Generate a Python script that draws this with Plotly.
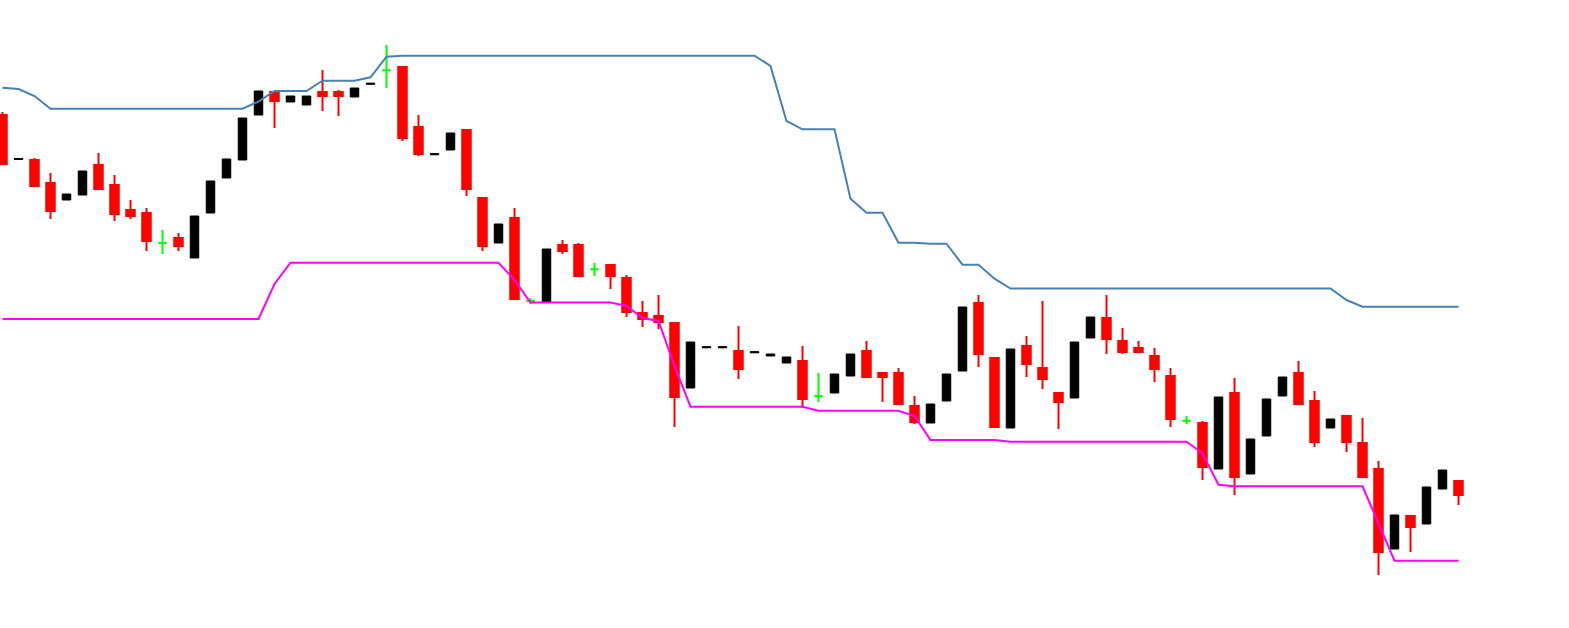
import plotly.graph_objects as go

# candle OHLC, one entry per bar (index = bar number)
opens = [1.2885, 1.28405, 1.2840, 1.2817, 1.2800, 1.2805, 1.2835, 1.2815, 1.2790, 1.2787,
         1.2757, 1.2762, 1.2742, 1.2787, 1.2822, 1.2840, 1.2885, 1.2908, 1.2898, 1.2895,
         1.2908, 1.2908, 1.2903, 1.29157, 1.29297, 1.2933, 1.2873, 1.28452, 1.2850, 1.2870,
         1.2802, 1.2757, 1.2782, 1.2699, 1.2698, 1.2755, 1.2755, 1.27307, 1.2735, 1.2722,
         1.2687, 1.2684, 1.2677, 1.2612, 1.26522, 1.26522, 1.2649, 1.26472, 1.2644, 1.2637,
         1.2639, 1.26037, 1.2607, 1.2624, 1.2649, 1.2627, 1.2627, 1.2594, 1.2577, 1.2599,
         1.2629, 1.2697, 1.2642, 1.2572, 1.2654, 1.2632, 1.2607, 1.2602, 1.2662, 1.2682,
         1.2659, 1.2652, 1.2644, 1.2624, 1.25793, 1.2577, 1.2531, 1.2607, 1.2526, 1.2564,
         1.2604, 1.2627, 1.2599, 1.2572, 1.2584, 1.2557, 1.2531, 1.2451, 1.2484, 1.2476,
         1.2511, 1.2519]
highs = [1.2888, 1.28415, 1.2842, 1.2827, 1.2806, 1.2829, 1.2847, 1.2825, 1.2800, 1.2792,
         1.2770, 1.2767, 1.2784, 1.2819, 1.2841, 1.2882, 1.2909, 1.2908, 1.2904, 1.2904,
         1.2930, 1.2910, 1.2912, 1.29167, 1.2955, 1.2933, 1.2885, 1.28462, 1.2867, 1.2870,
         1.2802, 1.2776, 1.2792, 1.2702, 1.2751, 1.2760, 1.2757, 1.2737, 1.2735, 1.2725,
         1.2699, 1.2705, 1.2677, 1.2658, 1.26532, 1.26532, 1.2674, 1.26482, 1.2646, 1.2643,
         1.2654, 1.2627, 1.2626, 1.2646, 1.2659, 1.2627, 1.2632, 1.2604, 1.2596, 1.2626,
         1.2693, 1.2705, 1.2642, 1.2651, 1.2664, 1.2699, 1.2607, 1.2658, 1.2683, 1.2705,
         1.2672, 1.2659, 1.2652, 1.2632, 1.2584, 1.2579, 1.2603, 1.2622, 1.2561, 1.2601,
         1.2623, 1.2639, 1.2609, 1.2581, 1.2584, 1.2582, 1.2539, 1.2485, 1.2484, 1.2513,
         1.2530, 1.2519]
lows = [1.2836, 1.28405, 1.2814, 1.2781, 1.2800, 1.2805, 1.2811, 1.2779, 1.2781, 1.2749,
        1.2746, 1.2749, 1.2742, 1.2787, 1.2822, 1.2840, 1.2885, 1.2872, 1.2898, 1.2895,
        1.2889, 1.2884, 1.2903, 1.29157, 1.2912, 1.2859, 1.2844, 1.28452, 1.2850, 1.2804,
        1.2749, 1.2757, 1.2700, 1.2696, 1.2698, 1.2746, 1.2724, 1.2724, 1.2711, 1.2683,
        1.2673, 1.2671, 1.2573, 1.2612, 1.26522, 1.26522, 1.2621, 1.26472, 1.2644, 1.2637,
        1.2593, 1.2598, 1.2607, 1.2624, 1.2623, 1.2598, 1.2596, 1.2576, 1.2577, 1.2599,
        1.2629, 1.2633, 1.2573, 1.2572, 1.2623, 1.2611, 1.2571, 1.2602, 1.2662, 1.2646,
        1.2646, 1.2648, 1.2618, 1.2573, 1.2576, 1.2520, 1.2531, 1.2505, 1.2526, 1.2564,
        1.2604, 1.2596, 1.2553, 1.2572, 1.2548, 1.2523, 1.2425, 1.2451, 1.2448, 1.2476,
        1.2511, 1.2495]
closes = [1.2836, 1.28415, 1.2814, 1.2789, 1.2806, 1.2829, 1.2811, 1.2786, 1.2784, 1.2759,
          1.2757, 1.2754, 1.2784, 1.2819, 1.2841, 1.2882, 1.2909, 1.2899, 1.2904, 1.2904,
          1.2904, 1.2904, 1.2912, 1.29167, 1.29297, 1.2862, 1.2846, 1.28462, 1.2867, 1.2811,
          1.2754, 1.2776, 1.2701, 1.2699, 1.2751, 1.2749, 1.2724, 1.27307, 1.2724, 1.2688,
          1.2681, 1.2678, 1.2603, 1.2658, 1.26532, 1.26532, 1.2631, 1.26482, 1.2646, 1.2643,
          1.2601, 1.26037, 1.2626, 1.2646, 1.2623, 1.2623, 1.2596, 1.2578, 1.2596, 1.2626,
          1.2693, 1.2646, 1.2573, 1.2651, 1.2636, 1.2621, 1.2598, 1.2658, 1.2683, 1.2661,
          1.2648, 1.2648, 1.2631, 1.2581, 1.25793, 1.2533, 1.2603, 1.2523, 1.2561, 1.2601,
          1.2623, 1.2596, 1.2558, 1.2581, 1.2558, 1.2523, 1.2448, 1.2485, 1.2473, 1.2513,
          1.2530, 1.2505]

# channel lines
upper_band = [1.29123, 1.2911, 1.2904, 1.28913, 1.28913, 1.28913, 1.28913, 1.28913, 1.28913, 1.28913,
              1.28913, 1.28913, 1.28913, 1.28913, 1.28913, 1.28913, 1.28985, 1.2909, 1.2909, 1.2909,
              1.29193, 1.29193, 1.29193, 1.29227, 1.29433, 1.29443, 1.29443, 1.29443, 1.29443, 1.29443,
              1.29443, 1.29443, 1.29443, 1.29443, 1.29443, 1.29443, 1.29443, 1.29443, 1.29443, 1.29443,
              1.29443, 1.29443, 1.29443, 1.29443, 1.29443, 1.29443, 1.29443, 1.29443, 1.2934, 1.2879,
              1.28707, 1.28707, 1.28707, 1.28013, 1.27873, 1.27873, 1.27573, 1.27573, 1.27563, 1.27563,
              1.27353, 1.27353, 1.27213, 1.27115, 1.27115, 1.27115, 1.27115, 1.27115, 1.27115, 1.27115,
              1.27115, 1.27115, 1.27115, 1.27115, 1.27115, 1.27115, 1.27115, 1.27115, 1.27115, 1.27115,
              1.27115, 1.27115, 1.27115, 1.27115, 1.2700, 1.26933, 1.26933, 1.26933, 1.26933, 1.26933,
              1.26933, 1.26933]
lower_band = [1.2681, 1.2681, 1.2681, 1.2681, 1.2681, 1.2681, 1.2681, 1.2681, 1.2681, 1.2681,
              1.2681, 1.2681, 1.2681, 1.2681, 1.2681, 1.2681, 1.2681, 1.2716, 1.27373, 1.27373,
              1.27373, 1.27373, 1.27373, 1.27373, 1.27373, 1.27373, 1.27373, 1.27373, 1.27373, 1.27373,
              1.27373, 1.27373, 1.2720, 1.26975, 1.26975, 1.26975, 1.26975, 1.26975, 1.26975, 1.2694,
              1.2682, 1.2679, 1.2634, 1.25933, 1.25933, 1.25933, 1.25933, 1.25933, 1.25933, 1.25933,
              1.25933, 1.25893, 1.25893, 1.25893, 1.25893, 1.25893, 1.25893, 1.2584, 1.2560, 1.2560,
              1.2560, 1.2560, 1.2560, 1.25583, 1.25583, 1.25583, 1.25583, 1.25583, 1.25583, 1.25583,
              1.25583, 1.25583, 1.25583, 1.25583, 1.25583, 1.25467, 1.25153, 1.25137, 1.25137, 1.25137,
              1.25137, 1.25137, 1.25137, 1.25137, 1.25137, 1.25137, 1.24767, 1.24393, 1.24393, 1.24393,
              1.24393, 1.24393]

bars = list(range(len(opens)))


def candle_trace(test, color, width):
    idx = [i for i in bars if test(opens[i], closes[i])]
    style = dict(line=dict(color=color, width=width), fillcolor=color)
    return go.Candlestick(
        x=[bars[i] for i in idx],
        open=[opens[i] for i in idx],
        high=[highs[i] for i in idx],
        low=[lows[i] for i in idx],
        close=[closes[i] for i in idx],
        increasing=style, decreasing=style,
        whiskerwidth=0, showlegend=False, hoverinfo='skip',
    )


fig = go.Figure()
fig.add_trace(candle_trace(lambda o, c: c < o, '#FF0000', 2))   # bear
fig.add_trace(candle_trace(lambda o, c: c > o, '#000000', 1))   # bull
fig.add_trace(candle_trace(lambda o, c: c == o, '#00FF00', 2))  # doji

fig.add_trace(go.Scatter(x=bars, y=upper_band, mode='lines',
                         line=dict(color='#4682B4', width=2), showlegend=False))
fig.add_trace(go.Scatter(x=bars, y=lower_band, mode='lines',
                         line=dict(color='#FF00FF', width=2), showlegend=False))

fig.update_layout(
    width=1569, height=628,
    margin=dict(l=0, r=0, t=0, b=0),
    paper_bgcolor='white', plot_bgcolor='white',
    boxgap=0.24,
    xaxis=dict(visible=False, range=[-0.15625, 97.90625], rangeslider=dict(visible=False)),
    yaxis=dict(visible=False, range=[1.2372, 1.3000]),
)

# page body has a default 8px margin; drop it so the chart sits at the window corner
fig.write_html("out.html", config={'displayModeBar': False},
               post_script="document.body.style.margin='0';document.body.style.overflow='hidden';")
